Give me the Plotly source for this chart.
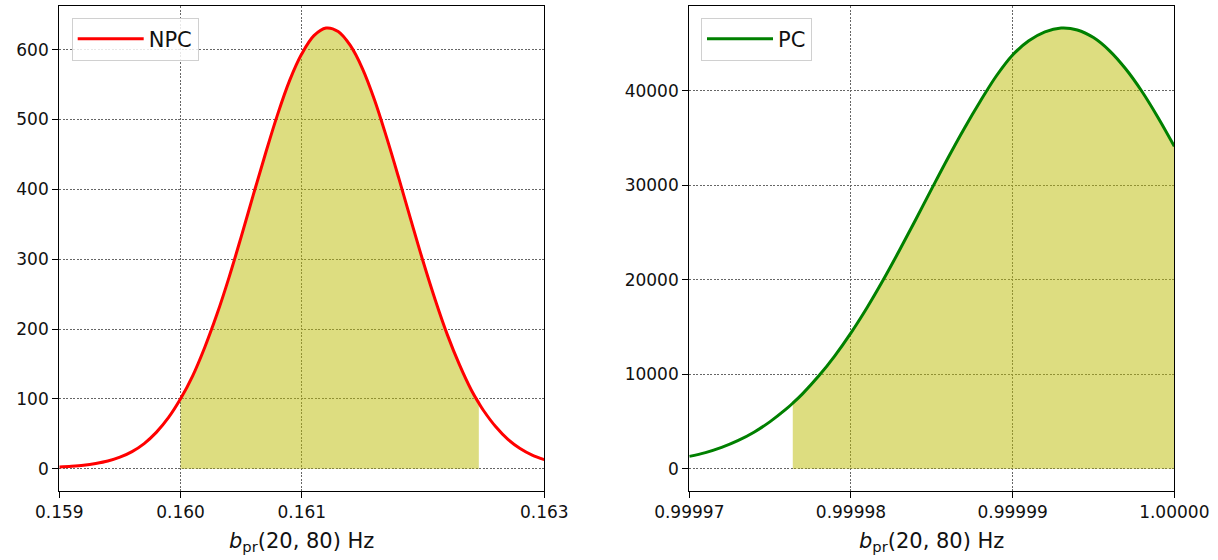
import plotly.graph_objects as go

# ---------------- data ----------------
npc_x = [0.1590, 0.1591, 0.1592, 0.1593, 0.1594, 0.1595, 0.1596, 0.1597, 0.1598, 0.1599,
         0.1600, 0.1601, 0.1602, 0.1603, 0.1604, 0.1605, 0.1606, 0.1607, 0.1608, 0.1609,
         0.1610, 0.1611, 0.1612, 0.1613, 0.1614, 0.1615, 0.1616, 0.1617, 0.1618, 0.1619,
         0.1620, 0.1621, 0.1622, 0.1623, 0.1624, 0.16246, 0.1625, 0.1626, 0.1627, 0.1628,
         0.1629, 0.1630]
npc_y = [2.5, 3.5, 5.0, 7.5, 11, 16.5, 24.5, 36, 52, 73,
         100, 133, 174, 221, 274, 332, 392, 451, 507, 556,
         594, 620, 631, 626, 606, 573, 528, 474, 416, 356,
         297, 242, 192, 149, 112, 94, 83, 60, 42, 29,
         19.5, 13]
npc_band = [0.1600, 0.16246]

pc_x = [0.999970, 0.999971, 0.999972, 0.999973, 0.999974, 0.999975, 0.999976, 0.9999764,
        0.999977, 0.999978, 0.999979, 0.999980, 0.999981, 0.999982, 0.999983, 0.999984,
        0.999985, 0.999986, 0.999987, 0.999988, 0.999989, 0.999990, 0.999991, 0.999992,
        0.999993, 0.999994, 0.999995, 0.999996, 0.999997, 0.999998, 0.999999, 1.000000]
pc_y = [1300, 1700, 2250, 2960, 3860, 4980, 6320, 6930,
        7920, 9800, 11950, 14380, 17070, 20000, 23120, 26350,
        29650, 32900, 36000, 38900, 41600, 43800, 45300, 46250,
        46650, 46450, 45640, 44240, 42310, 39930, 37160, 34130]
pc_band = [0.9999764, 1.0]

npc_xticks = [0.159, 0.160, 0.161, 0.163]
npc_xticktext = ["0.159", "0.160", "0.161", "0.163"]
npc_yticks = [0, 100, 200, 300, 400, 500, 600]
npc_yticktext = ["0", "100", "200", "300", "400", "500", "600"]
pc_xticks = [0.99997, 0.99998, 0.99999, 1.0]
pc_xticktext = ["0.99997", "0.99998", "0.99999", "1.00000"]
pc_yticks = [0, 10000, 20000, 30000, 40000]
pc_yticktext = ["0", "10000", "20000", "30000", "40000"]

x_label = "<i>b</i><sub>pr</sub>(20, 80) Hz"

# ---------------- styling ----------------
FW, FH = 1218, 560
FONT = "DejaVu Sans"
FILL = "rgba(188,188,2,0.5)"
GRID = "#666666"
SMOOTH = 1.0
TXT = "#111"


def px(x):
    return x / FW


def py(y):
    return 1 - y / FH


def band(xs, ys, lo, hi):
    eps = 1e-11
    sel = [(a, b) for a, b in zip(xs, ys) if lo - eps <= a <= hi + eps]
    return [a for a, _ in sel], [b for _, b in sel]


fig = go.Figure()

fx, fy = band(npc_x, npc_y, *npc_band)
fig.add_trace(go.Scatter(x=fx, y=fy, mode="lines", fill="tozeroy", fillcolor=FILL,
                         line=dict(width=0, shape="spline", smoothing=SMOOTH),
                         showlegend=False, xaxis="x", yaxis="y", hoverinfo="skip"))
fig.add_trace(go.Scatter(x=npc_x, y=npc_y, mode="lines", name="NPC",
                         line=dict(color="#ff0000", width=3, shape="spline", smoothing=SMOOTH),
                         xaxis="x", yaxis="y", legend="legend"))

gx, gy = band(pc_x, pc_y, *pc_band)
fig.add_trace(go.Scatter(x=gx, y=gy, mode="lines", fill="tozeroy", fillcolor=FILL,
                         line=dict(width=0, shape="spline", smoothing=SMOOTH),
                         showlegend=False, xaxis="x2", yaxis="y2", hoverinfo="skip"))
fig.add_trace(go.Scatter(x=pc_x, y=pc_y, mode="lines", name="PC",
                         line=dict(color="#008000", width=3, shape="spline", smoothing=SMOOTH),
                         xaxis="x2", yaxis="y2", legend="legend2"))

left_dom = [px(59.3), px(544.3)]
right_dom = [px(689.3), px(1174.3)]
y_dom = [py(490.7), py(6.0)]

axis_common = dict(showline=True, linecolor="black", linewidth=1.3, mirror=True,
                   ticks="outside", ticklen=6, tickwidth=1.2, tickcolor="black",
                   showgrid=True, gridcolor=GRID, gridwidth=0.8, griddash="2px,1.5px",
                   zeroline=False, tickfont=dict(family=FONT, size=17, color=TXT),
                   automargin=False)

legend_common = dict(xanchor="left", yanchor="top", itemwidth=66,
                     bgcolor="rgba(255,255,255,0.85)", bordercolor="#d0d0d0", borderwidth=1,
                     font=dict(family=FONT, size=21, color=TXT))

fig.update_layout(
    width=FW, height=FH,
    margin=dict(l=0, r=0, t=0, b=0),
    paper_bgcolor="white", plot_bgcolor="white",
    font=dict(family=FONT, color=TXT),
    xaxis=dict(domain=left_dom, range=[0.159, 0.163], tickvals=npc_xticks,
               ticktext=npc_xticktext, anchor="y", **axis_common),
    yaxis=dict(domain=y_dom, range=[-31.5, 662.5], tickvals=npc_yticks,
               ticktext=npc_yticktext, anchor="x", **axis_common),
    xaxis2=dict(domain=right_dom, range=[0.99997, 1.0], tickvals=pc_xticks,
                ticktext=pc_xticktext, anchor="y2", **axis_common),
    yaxis2=dict(domain=y_dom, range=[-2335, 48985], tickvals=pc_yticks,
                ticktext=pc_yticktext, anchor="x2", **axis_common),
    legend=dict(x=px(71.7), y=py(17.7), **legend_common),
    legend2=dict(x=px(701), y=py(17.7), **legend_common),
    annotations=[
        dict(text=x_label, xref="paper", yref="paper", x=px(301.8), y=py(542),
             xanchor="center", yanchor="middle", showarrow=False,
             font=dict(family=FONT, size=21, color=TXT)),
        dict(text=x_label, xref="paper", yref="paper", x=px(931.8), y=py(542),
             xanchor="center", yanchor="middle", showarrow=False,
             font=dict(family=FONT, size=21, color=TXT)),
    ],
)

fig.write_html(
    "out.html",
    config={"displayModeBar": False},
    post_script="document.body.style.margin='0';document.body.style.overflow='hidden';",
)
